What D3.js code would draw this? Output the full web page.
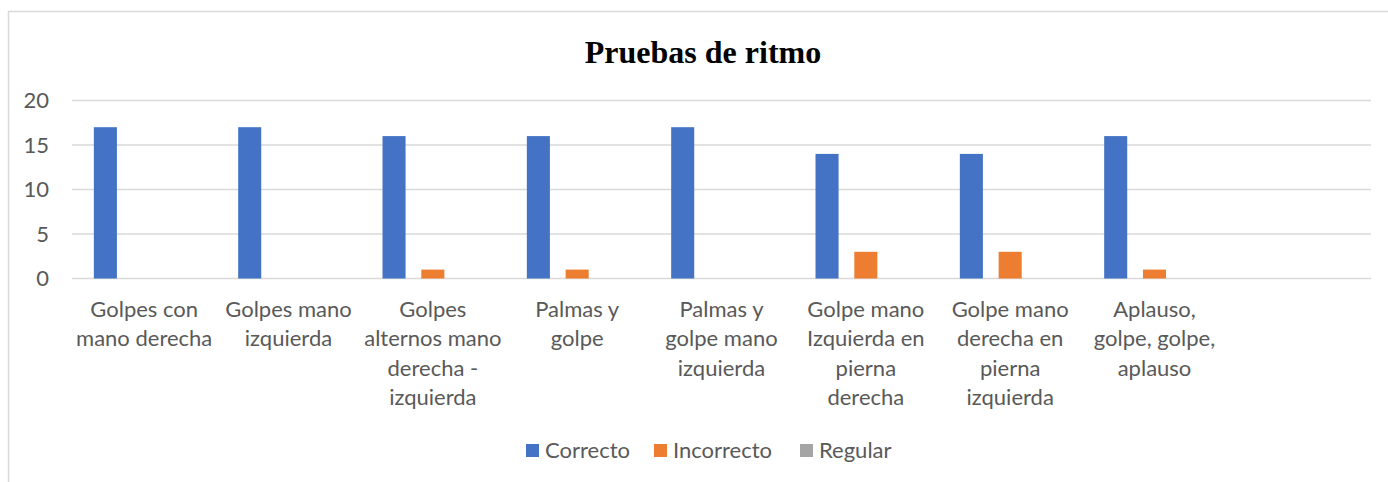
<!DOCTYPE html>
<html>
<head>
<meta charset="utf-8">
<script src="https://d3js.org/d3.v7.min.js"></script>
<style>
    html, body { margin: 0; padding: 0; background: #fff; }
    #chart { width: 1388px; height: 482px; }
</style>
</head>
<body>
<div id="chart"></div>
<script>
// data
var categorias = [
    "Golpes con mano derecha",
    "Golpes mano izquierda",
    "Golpes alternos mano derecha - izquierda",
    "Palmas y golpe",
    "Palmas y golpe mano izquierda",
    "Golpe mano Izquierda en pierna derecha",
    "Golpe mano derecha en pierna izquierda",
    "Aplauso, golpe, golpe, aplauso",
    ""
];
var series = ["Correcto", "Incorrecto", "Regular"];
var correcto   = [17, 17, 16, 16, 17, 14, 14, 16, null];
var incorrecto = [0, 0, 1, 1, 0, 3, 3, 1, null];
var regular    = [0, 0, 0, 0, 0, 0, 0, 0, null];
var yTicks = [0, 5, 10, 15, 20];
var colores = ["#4472C4", "#ED7D31", "#A5A5A5"];

function wrap(text, width) {
    text.each(function() {
        var text = d3.select(this),
            words = text.text().split(/\s+/).reverse(),
            word,
            line = [],
            lineNumber = 0,
            lineHeight = 29.3, // px
            y = text.attr("y"),
            tspan = text.text(null).append("tspan").attr("x", 0).attr("y", y);
        while (word = words.pop()) {
            line.push(word);
            tspan.text(line.join(" "));
            if (tspan.node().getComputedTextLength() > width && line.length > 1) {
                line.pop();
                tspan.text(line.join(" "));
                line = [word];
                tspan = text.append("tspan").attr("x", 0).attr("y", +y + (++lineNumber) * lineHeight).text(word);
            }
        }
    });
}

var width = 1388, height = 482;
var plot = {left: 72, right: 1371, top: 100.5, bottom: 278.5};
var font = "Lato, 'Open Sans', sans-serif";

var svg = d3.select("#chart").append("svg")
    .attr("width", width)
    .attr("height", height);

// chart area border
svg.append("rect")
    .attr("x", 8.5)
    .attr("y", 11.5)
    .attr("width", 1400)
    .attr("height", 500)
    .attr("fill", "#fff")
    .attr("stroke", "#d9d9d9")
    .attr("stroke-width", 1.5);

// title
svg.append("text")
    .attr("x", 703)
    .attr("y", 63)
    .attr("text-anchor", "middle")
    .attr("font-family", "'Liberation Serif', 'Times New Roman', serif")
    .attr("font-weight", "bold")
    .attr("font-size", "32px")
    .attr("fill", "#000")
    .text("Pruebas de ritmo");

// scales
var x0 = d3.scaleBand()
    .domain(d3.range(categorias.length))
    .range([plot.left, plot.right])
    .padding(0);
var x1 = d3.scaleBand()
    .domain(series)
    .range([0, x0.bandwidth()])
    .paddingInner(0.406)
    .paddingOuter(0.563);
var y = d3.scaleLinear()
    .domain([0, 20])
    .range([plot.bottom, plot.top]);

// gridlines
svg.append("g")
    .selectAll("line")
    .data(yTicks)
    .enter().append("line")
    .attr("x1", plot.left)
    .attr("x2", plot.right)
    .attr("y1", function(d) { return y(d); })
    .attr("y2", function(d) { return y(d); })
    .attr("stroke", "#d9d9d9")
    .attr("stroke-width", 1.5);

// y axis labels
svg.append("g")
    .selectAll("text")
    .data(yTicks)
    .enter().append("text")
    .attr("x", 49)
    .attr("y", function(d) { return y(d); })
    .attr("dy", "0.35em")
    .attr("text-anchor", "end")
    .attr("font-family", font)
    .attr("font-size", "22px")
    .attr("fill", "#595959")
    .text(function(d) { return d; });

// bars
var valores = [correcto, incorrecto, regular];
var barData = [];
categorias.forEach(function(c, i) {
    series.forEach(function(s, j) {
        if (valores[j][i] !== null) {
            barData.push({cat: i, serie: s, color: colores[j], value: valores[j][i]});
        }
    });
});

svg.append("g")
    .selectAll("rect")
    .data(barData)
    .enter().append("rect")
    .attr("x", function(d) { return x0(d.cat) + x1(d.serie); })
    .attr("width", x1.bandwidth())
    .attr("y", function(d) { return y(d.value); })
    .attr("height", function(d) { return y(0) - y(d.value); })
    .attr("fill", function(d) { return d.color; });

// x axis labels
svg.append("g")
    .selectAll("text")
    .data(categorias)
    .enter().append("text")
    .attr("transform", function(d, i) { return "translate(" + (x0(i) + x0.bandwidth() / 2) + ",0)"; })
    .attr("y", 317)
    .attr("text-anchor", "middle")
    .attr("font-family", font)
    .attr("font-size", "22px")
    .attr("fill", "#595959")
    .text(function(d) { return d; })
    .call(wrap, x0.bandwidth() - 4);

// legend
var legendX = [526, 654, 800];
var legend = svg.append("g")
    .selectAll("g")
    .data(series)
    .enter().append("g")
    .attr("transform", function(d, i) { return "translate(" + legendX[i] + ",0)"; });

legend.append("rect")
    .attr("x", 0)
    .attr("y", 444)
    .attr("width", 13)
    .attr("height", 13)
    .attr("fill", function(d, i) { return colores[i]; });

legend.append("text")
    .attr("x", 19)
    .attr("y", 458)
    .attr("font-family", font)
    .attr("font-size", "22px")
    .attr("fill", "#595959")
    .text(function(d) { return d; });
</script>
</body>
</html>
